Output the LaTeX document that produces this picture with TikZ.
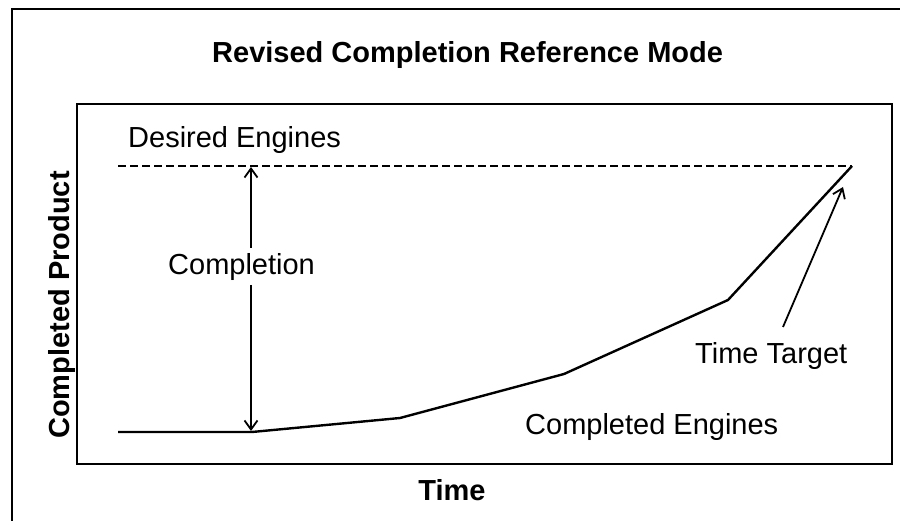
\documentclass[tikz,border=0pt]{standalone}
\usepackage{fontspec}
\setmainfont{Liberation Sans}
\usetikzlibrary{arrows.meta}
\begin{document}
\begin{tikzpicture}[x=1pt,y=-1pt,
  lbl/.style={font=\fontsize{29}{34}\selectfont, inner sep=0pt, anchor=base west},
  boldlbl/.style={font=\fontsize{29}{34}\selectfont\bfseries, inner sep=0pt},
  frameline/.style={line width=2pt},
  curveline/.style={line width=2.4pt, line join=round},
  dashline/.style={line width=1.8pt, dash pattern=on 8pt off 4pt},
  arrowline/.style={line width=1.8pt, arrows={-Straight Barb[length=9pt,width=13pt,line width=1.8pt]}}]
\useasboundingbox (0,0) rectangle (900,521);
% outer frame (left and top)
\coordinate (ob) at (12,521);
\coordinate (otl) at (12,9);
\coordinate (otr) at (900,9);
\draw[frameline] (ob) -- (otl) -- (otr);
% inner plot box
\coordinate (ib1) at (77,104);
\coordinate (ib2) at (892,464);
\draw[frameline] (ib1) rectangle (ib2);
% titles
\node[boldlbl, anchor=base west] (title) at (212,63) {Revised Completion Reference Mode};
\node[boldlbl, anchor=base, rotate=90] (ylab) at (69,305) {Completed Product};
\node[boldlbl, anchor=base] (xlab) at (452,500) {Time};
% curve points
\coordinate (c0) at (118,432);
\coordinate (c1) at (252,432);
\coordinate (c2) at (400,418);
\coordinate (c3) at (564,374);
\coordinate (c4) at (728,300);
\coordinate (c5) at (852,166);
\coordinate (d0) at (118,166);
\draw[dashline] (d0) -- (c5);
\draw[curveline] (c0) -- (c1) -- (c2) -- (c3) -- (c4) -- (c5);
% labels
\node[lbl] (desired) at (128,148) {Desired Engines};
\node[lbl] (completion) at (168,275) {Completion};
\node[lbl] (timetarget) at (695,363) {Time Target};
\node[lbl] (completed) at (525,435) {Completed Engines};
% completion double arrow, interrupted by its label
\coordinate (ctop) at (251,167);
\coordinate (cbot) at (251,431);
\coordinate (cup) at (251,248);
\coordinate (cdown) at (251,285);
\draw[arrowline] (cup) -- (ctop);
\draw[arrowline] (cdown) -- (cbot);
% time target arrow
\coordinate (tts) at (783,327);
\coordinate (tte) at (843,187);
\draw[arrowline] (tts) -- (tte);
\end{tikzpicture}
\end{document}
